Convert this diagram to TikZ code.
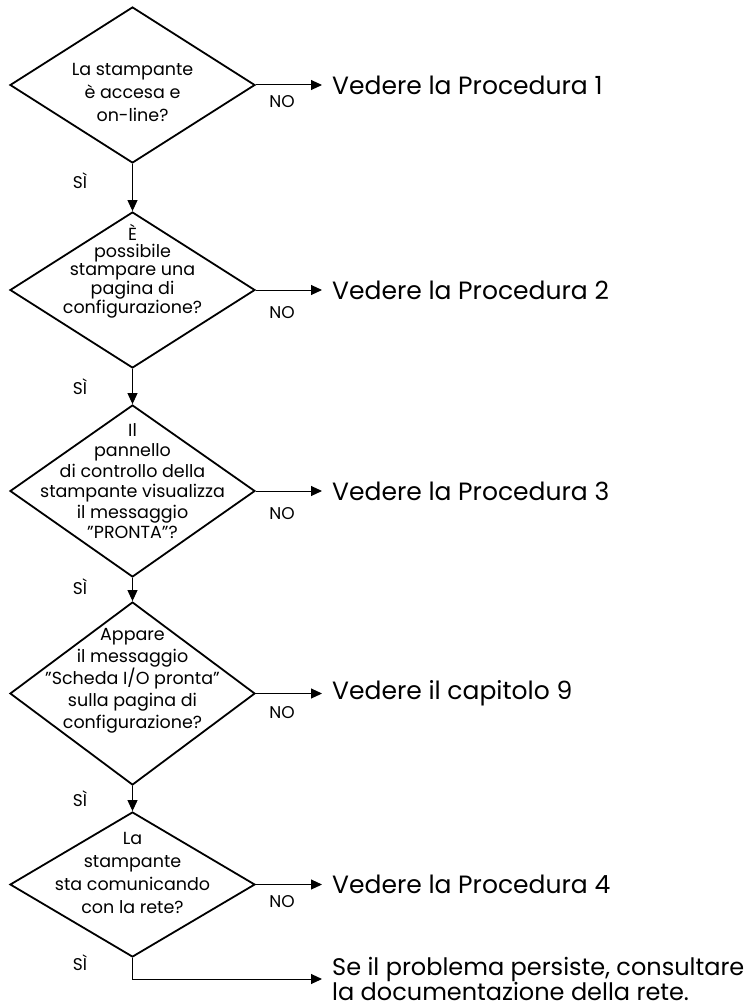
\documentclass[tikz,border=0pt]{standalone}
\usepackage{fontspec}
\setmainfont{Poppins}
\usetikzlibrary{shapes.geometric,arrows.meta}
\tikzset{
  dec/.style={diamond, draw, line width=1.8pt, minimum width=245pt, inner sep=0pt},
  qtext/.style={align=center, inner sep=0pt, font=\fontsize{17.5}{#1}\selectfont},
  see/.style={anchor=west, inner xsep=10pt, inner ysep=0pt, font=\fontsize{25}{20}\selectfont},
  lab/.style={inner sep=0pt, font=\fontsize{17}{17}\selectfont},
  flow/.style={line width=1pt, -{Triangle[length=11pt,width=10pt]}}
}
\begin{document}
\begin{tikzpicture}[x=1pt,y=-1pt]
\useasboundingbox (0,0) rectangle (751,1006);
\node[dec, minimum height=156pt] (dec1) at (132.5,85){};
\node[dec, minimum height=156pt] (dec2) at (132.5,290){};
\node[dec, minimum height=172pt] (dec3) at (132.5,491){};
\node[dec, minimum height=183pt] (dec4) at (132.5,693.5){};
\node[dec, minimum height=145pt] (dec5) at (132.5,884.5){};
\node[qtext=23] (txt1) at (132.5,92){La stampante\\è accesa e\\on-line?};
\node[qtext=17.5] (txt2) at (132.5,271){È\\possibile\\stampare una\\pagina di\\configurazione?};
\node[qtext=20.5] (txt3) at (132.5,481){Il\\pannello\\di controllo della\\stampante visualizza\\il messaggio\\"PRONTA"?};
\node[qtext=22] (txt4) at (132.5,681){Appare\\il messaggio\\"Scheda I/O pronta"\\sulla pagina di\\configurazione?};
\node[qtext=23] (txt5) at (132.5,873){La\\stampante\\sta comunicando\\con la rete?};
\node[see] (see1) at (322,85){Vedere la Procedura 1};
\node[see] (see2) at (322,290){Vedere la Procedura 2};
\node[see] (see3) at (322,491){Vedere la Procedura 3};
\node[see] (see4) at (322,693.5){Vedere il capitolo 9};
\node[see] (see5) at (322,884.5){Vedere la Procedura 4};
\coordinate (fine) at (322,979);
\node[see, align=left, font=\fontsize{24}{19}\selectfont] (fin) at (322,979){Se il problema persiste, consultare\\la documentazione della rete.};
\node[lab] (no1) at (282,102){NO};
\node[lab] (no2) at (282,313){NO};
\node[lab] (no3) at (282,514){NO};
\node[lab] (no4) at (282,713){NO};
\node[lab] (no5) at (282,902){NO};
\node[lab] (si1) at (80,181){SÌ};
\node[lab] (si2) at (80,387){SÌ};
\node[lab] (si3) at (80,587){SÌ};
\node[lab] (si4) at (80,799){SÌ};
\node[lab] (si5) at (80,963){SÌ};
\draw[flow](dec1.south) -- (dec2.north);
\draw[flow](dec2.south) -- (dec3.north);
\draw[flow](dec3.south) -- (dec4.north);
\draw[flow](dec4.south) -- (dec5.north);
\draw[flow](dec1.east) -- (see1.west);
\draw[flow](dec2.east) -- (see2.west);
\draw[flow](dec3.east) -- (see3.west);
\draw[flow](dec4.east) -- (see4.west);
\draw[flow](dec5.east) -- (see5.west);
\draw[flow](dec5.south) |- (fine);
\end{tikzpicture}
\end{document}
